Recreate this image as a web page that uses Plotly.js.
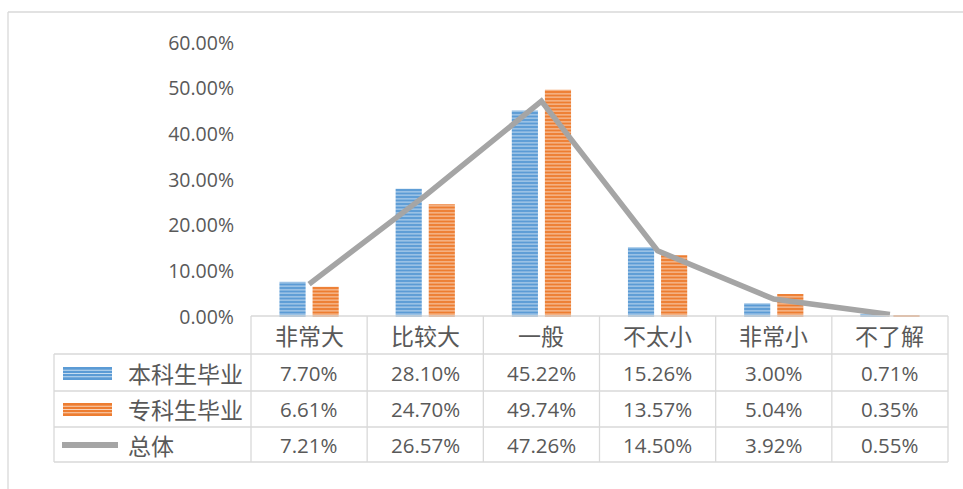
<!DOCTYPE html>
<html>
<head>
<meta charset="utf-8">
<script src="https://cdn.plot.ly/plotly-3.0.1.min.js"></script>
<style>
html,body{margin:0;padding:0;background:#fff;}
#chart{width:963px;height:489px;}
</style>
</head>
<body>
<div id="chart"></div>
<script>
const categories = ['非常大','比较大','一般','不太小','非常小','不了解'];
const seriesNames = ['本科生毕业','专科生毕业','总体'];
const undergrad = [7.70, 28.10, 45.22, 15.26, 3.00, 0.71];
const junior = [6.61, 24.70, 49.74, 13.57, 5.04, 0.35];
const overall = [7.21, 26.57, 47.26, 14.50, 3.92, 0.55];
const yTicks = [0, 10, 20, 30, 40, 50, 60];
const yTickText = yTicks.map(v => v.toFixed(2) + '%');

const W = 963, Hh = 489;
const L = 251, R = 948, T = 43, B = 317;
const PW = R - L, PH = B - T;
const px = x => (x - L) / PW;
const py = y => (B - y) / PH;

const textColor = '#595959';
const gridC = '#D9D9D9';
const cjk = '"Noto Sans CJK SC", "Open Sans", sans-serif';
const num = '"Open Sans", "Noto Sans CJK SC", sans-serif';

const traces = [
  {type:'bar', name:seriesNames[0], x:categories, y:undergrad,
   marker:{color:'#5B9BD5', line:{width:0},
     pattern:{shape:'-', size:3.5, solidity:0.3, fgcolor:'#C5DCF0', bgcolor:'#5B9BD5'}}},
  {type:'bar', name:seriesNames[1], x:categories, y:junior,
   marker:{color:'#ED7D31', line:{width:0},
     pattern:{shape:'-', size:3.5, solidity:0.3, fgcolor:'#F9D3B8', bgcolor:'#ED7D31'}}},
  {type:'scatter', mode:'lines', name:seriesNames[2], x:categories, y:overall,
   line:{color:'#A5A5A5', width:5.5}}
];

const shapes = [];
const line = (x0,y0,x1,y1,color,w) => shapes.push({type:'line', xref:'paper', yref:'paper',
  x0:px(x0), y0:py(y0), x1:px(x1), y1:py(y1), line:{color:color||gridC, width:w||1.3}});

// outer chart border
line(8, 12, 963, 12, '#D9D9D9', 1.3);
line(8, 12, 8, 489, '#D9D9D9', 1.3);

// table grid
const colX = [];
for (let i = 0; i <= categories.length; i++) colX.push(L + i * PW / categories.length);
const rowY = [316, 354, 391, 427, 462];
line(L, rowY[0], R, rowY[0]);
for (let r = 1; r < rowY.length; r++) line(54, rowY[r], R, rowY[r]);
colX.forEach(x => line(x, rowY[0], x, rowY[4]));
line(54, rowY[1], 54, rowY[4]);

// legend icons
const icon = (y0, y1, color, light) => {
  shapes.push({type:'rect', xref:'paper', yref:'paper', x0:px(63), x1:px(112), y0:py(y0), y1:py(y1),
    fillcolor:color, line:{width:0}});
  for (let k = 1; k <= 3; k++) {
    const yy = y0 + (y1 - y0) * k / 4;
    line(63, yy, 112, yy, light, 1.2);
  }
};
icon(367, 380, '#5B9BD5', '#C5DCF0');
icon(403, 416, '#ED7D31', '#F9D3B8');
line(62, 445, 118, 445, '#A5A5A5', 6);

const annotations = [];
const rowCenters = [335, 373, 409, 445];
categories.forEach((c, i) => {
  annotations.push({xref:'x', yref:'paper', x:c, y:py(rowCenters[0]), text:c, showarrow:false,
    font:{family:cjk, size:23, color:textColor}, xanchor:'center', yanchor:'middle'});
});
const rows = [undergrad, junior, overall];
rows.forEach((arr, r) => {
  annotations.push({xref:'paper', yref:'paper', x:px(126), y:py(rowCenters[r+1]), text:seriesNames[r],
    showarrow:false, font:{family:cjk, size:23, color:textColor}, xanchor:'left', yanchor:'middle'});
  arr.forEach((v, i) => {
    annotations.push({xref:'x', yref:'paper', x:categories[i], y:py(rowCenters[r+1]),
      text:v.toFixed(2) + '%', showarrow:false,
      font:{family:num, size:20.5, color:textColor}, xanchor:'center', yanchor:'middle'});
  });
});

const layout = {
  width:W, height:Hh,
  margin:{l:L, r:W-R, t:T, b:Hh-B, pad:0},
  paper_bgcolor:'#ffffff', plot_bgcolor:'#ffffff',
  showlegend:false,
  barmode:'group', bargap:0.43, bargroupgap:0.21,
  xaxis:{type:'category', showticklabels:false, showgrid:false, zeroline:false, showline:false, ticks:''},
  yaxis:{range:[0,60], tickmode:'array', tickvals:yTicks, ticktext:yTickText, showgrid:false,
    zeroline:false, showline:false, ticks:'', ticklabelstandoff:16,
    tickfont:{family:num, size:19.5, color:textColor}},
  shapes:shapes,
  annotations:annotations
};

Plotly.newPlot('chart', traces, layout, {displayModeBar:false});
</script>
</body>
</html>
